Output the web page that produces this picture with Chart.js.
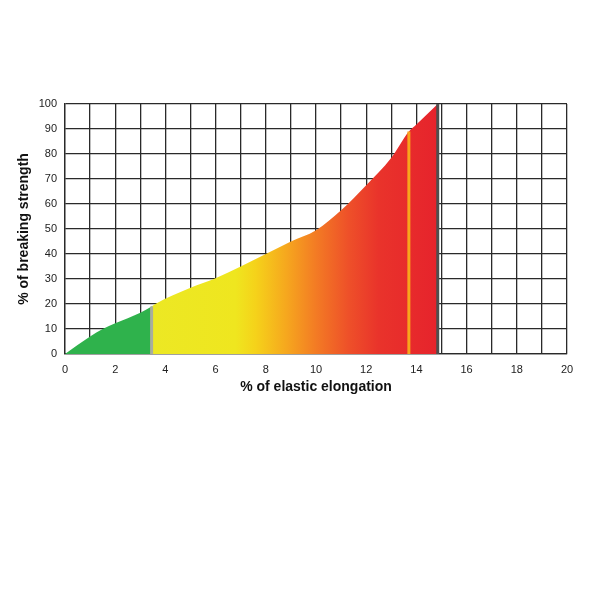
<!DOCTYPE html>
<html>
<head>
<meta charset="utf-8">
<script src="https://cdn.jsdelivr.net/npm/chart.js@4"></script>
<style>
  html, body { margin: 0; padding: 0; background: #ffffff; }
  #chart { display: block; }
</style>
</head>
<body>
<canvas id="chart" width="600" height="600"></canvas>
<script>
// Curve: elongation (%) vs breaking strength (%)
const elongation = [0, 1, 1.5, 2, 3, 3.45, 3.6, 5, 6, 7, 8, 9, 10, 11, 12, 13, 13.7, 14, 14.85];
const strength   = [0, 7, 10, 12.3, 16.5, 19, 20, 26.5, 30.3, 35, 40, 45, 49.5, 57.5, 67.5, 78.5, 89, 91.8, 100];

// Vertical marker lines: [x, top]
const greyMarker   = [3.45, 19];
const orangeMarker = [13.7, 89];
const endMarker    = [14.85, 100];

const xTicks = [0, 20];   // axis range
const yTicks = [0, 100];

// Colour stops along the x axis (value, colour)
const gradientStops = [
    [0, '#2fb24c'], [3.45, '#2fb24c'],
    [3.45, '#ece824'], [6.8, '#efe61f'],
    [7.6, '#f5d21a'], [8.8, '#f6a81e'],
    [10, '#f37b24'], [11.3, '#ee5029'],
    [12.5, '#e9332b'], [14.85, '#e6232c'], [20, '#e6232c']
];

function makePoints(xs, ys) {
    return xs.map((x, i) => ({ x: x, y: ys[i] }));
}

function markerLine(m) {
    return [{ x: m[0], y: 0 }, { x: m[0], y: m[1] }];
}

// Build a horizontal gradient using the x scale
function areaGradient(context) {
    const chart = context.chart;
    const area = chart.chartArea;
    if (!area) return null;
    const xs = chart.scales.x;
    const p0 = xs.getPixelForValue(xTicks[0]);
    const p1 = xs.getPixelForValue(xTicks[1]);
    const g = chart.ctx.createLinearGradient(p0, 0, p1, 0);
    gradientStops.forEach(s => {
        g.addColorStop((s[0] - xTicks[0]) / (xTicks[1] - xTicks[0]), s[1]);
    });
    return g;
}

const tickFont = { family: 'Liberation Sans, Arial, sans-serif', size: 11 };
const titleFont = { family: 'Liberation Sans, Arial, sans-serif', size: 14, weight: 'bold' };

new Chart(document.getElementById('chart').getContext('2d'), {
    type: 'line',
    data: {
        datasets: [
            {
                data: makePoints(elongation, strength),
                backgroundColor: areaGradient,
                borderWidth: 0,
                fill: 'origin',
                pointRadius: 0,
                cubicInterpolationMode: 'monotone',
                order: 3
            },
            {
                data: markerLine(greyMarker),
                borderColor: '#a9ad9f',
                borderWidth: 3,
                pointRadius: 0,
                fill: false,
                order: 2
            },
            {
                data: markerLine(orangeMarker),
                borderColor: '#f8a41c',
                borderWidth: 3,
                pointRadius: 0,
                fill: false,
                order: 1
            },
            {
                data: markerLine(endMarker),
                borderColor: '#4e4e4e',
                borderWidth: 3,
                pointRadius: 0,
                fill: false,
                order: 0
            }
        ]
    },
    options: {
        responsive: false,
        animation: false,
        layout: {
            padding: { left: 0, top: 104, right: 33, bottom: 196 }
        },
        plugins: {
            legend: { display: false },
            tooltip: { enabled: false }
        },
        scales: {
            x: {
                type: 'linear',
                min: xTicks[0],
                max: xTicks[1],
                afterFit: s => { s.height = 50; },
                grid: { color: '#2a2a2a', lineWidth: 1.3, drawTicks: false },
                border: { color: '#2a2a2a', width: 1.3 },
                ticks: {
                    stepSize: 1,
                    padding: 9,
                    color: '#222',
                    font: tickFont,
                    maxRotation: 0,
                    autoSkip: false,
                    callback: v => (v % 2 === 0 ? v : '')
                },
                title: {
                    display: true,
                    text: '% of elastic elongation',
                    color: '#111',
                    font: titleFont,
                    padding: { top: 0, bottom: 8 }
                }
            },
            y: {
                min: yTicks[0],
                max: yTicks[1],
                afterFit: s => { s.width = 65; },
                grid: { color: '#2a2a2a', lineWidth: 1.3, drawTicks: false },
                border: { color: '#2a2a2a', width: 1.3 },
                ticks: {
                    stepSize: 10,
                    padding: 8,
                    color: '#222',
                    font: tickFont
                },
                title: {
                    display: true,
                    text: '% of breaking strength',
                    color: '#111',
                    font: titleFont,
                    padding: { top: 16, bottom: 0 }
                }
            }
        }
    }
});
</script>
</body>
</html>
